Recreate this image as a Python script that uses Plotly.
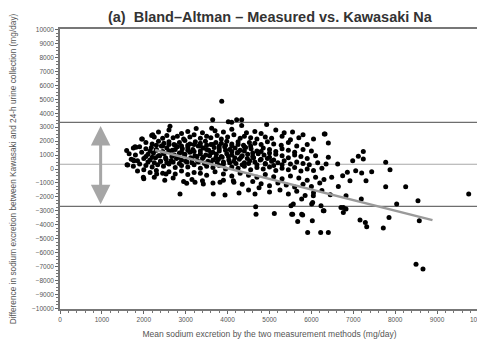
import plotly.graph_objects as go

# ---- data (mg/day) ----
mean_diff = 340
upper_loa = 3350
lower_loa = -2680
arrow_x = 970
reg_x = [2270, 8890]
reg_y = [1370, -3670]

outlier_x = [3860, 9754, 8497, 8663, 8544, 8575, 8250, 8035, 7852, 7716, 7773, 7876, 7773, 7320, 7287,
             7160, 7191, 7439, 7239, 7239, 7120, 6986, 7057, 7200, 7303, 6826, 6826, 6762, 6706, 6762,
             6643, 6746, 6858, 6921, 6627, 6404, 6404, 6308, 6484, 6404, 6221, 5911, 6022, 5673, 5792,
             5530, 5115, 6300, 6229, 6007, 6046, 5768, 5513, 4678, 5553, 4670, 5768, 2864, 3659, 3938,
             4272, 4654, 5568, 6030, 6284, 3644, 4017, 4216, 4336, 4097, 4336, 4932, 3620, 2625, 2188,
             1965, 6325, 1790, 1748, 1989, 2307, 2530, 3023, 3222, 3421, 3819, 4137, 1591, 1615, 1949,
             2212, 1766, 1814]
outlier_y = [4870, -1800, -6830, -7170, -2280, -3720, -1270, -2520, -3480, -4240, -1270, -50, 480, -4150, -3840,
             -3670, -2160, -190, 1250, 720, 910, 600, -120, -290, -840, -1920, -2880, -2760, -2760, -3120,
             -1250, -480, -240, -840, 360, 840, 1870, 2520, -600, -4550, -4550, -4550, -3720, -3770, -3310,
             -3240, -3190, -3000, -2640, -2520, -1920, -2160, -2640, -3240, -3240, -2710, -3240, -1800, -1800, -1870,
             -1730, -1800, -2520, -2400, -3000, 3530, 3400, 3530, 3530, 3360, 3120, 3190, 2930, 3070, 2400,
             2160, 2520, 1600, 650, -600, -360, -360, -1030, -960, -1080, -960, -840, 1320, 290, 2160,
             2450, 600, 1560]

core_x = [
    2350, 2600, 2900, 3050, 3250, 3400, 3700, 3900, 4100, 4450, 4650, 4800, 5150, 5350, 5550, 5800,
    2250, 2450, 2550, 2700, 2800, 2950, 3100, 3200, 3350, 3500, 3600, 3750, 3850, 4000, 4150, 4300, 4400,
    4550, 4700, 4900, 5050, 5300, 5500, 5700, 6050,
    2050, 2200, 2350, 2480, 2600, 2720, 2850, 2980, 3100, 3230, 3350, 3470, 3600, 3720, 3850, 3980, 4100,
    4250, 4380, 4520, 4650, 4800, 4950, 5100, 5280, 5450, 5650, 5900,
    2300, 2450, 2600, 2750, 2900, 3050, 3200, 3350, 3500, 3650, 3800, 3950, 4100, 4250, 4400, 4550,
    1750, 1900, 2050, 2180, 2300, 2420, 2550, 2680, 2800, 2920, 3050, 3170, 3300, 3420, 3550, 3680, 3800,
    3930, 4050, 4180, 4300, 4430, 4560, 4700, 4850, 5000, 5150, 5300, 5450, 5600, 5800, 6000,
    2150, 2300, 2450, 2600, 2750, 2900, 3050, 3200, 3350, 3500, 3650, 3800, 3950, 4100, 4250, 4400, 4600,
    4800, 5000,
    1650, 1800, 1950, 2100, 2230, 2350, 2480, 2600, 2730, 2850, 2980, 3100, 3220, 3350, 3480, 3600, 3730,
    3850, 3980, 4100, 4230, 4350, 4480, 4600, 4730, 4870, 5000, 5150, 5300, 5450, 5600, 5750, 5900, 6100,
    2050, 2200, 2380, 2520, 2670, 2820, 2970, 3120, 3270, 3420, 3570, 3720, 3870, 4020, 4170, 4320, 4470,
    4620, 4800, 4950, 5100,
    1700, 1850, 2000, 2150, 2280, 2400, 2530, 2650, 2780, 2900, 3030, 3150, 3280, 3400, 3530, 3650, 3780,
    3900, 4030, 4150, 4280, 4400, 4530, 4650, 4780, 4900, 5050, 5200, 5350, 5500, 5650, 5800, 5950, 6150, 6350,
    2100, 2250, 2400, 2550, 2700, 2850, 3000, 3150, 3300, 3450, 3600, 3750, 3900, 4050, 4200, 4350, 4500,
    4700, 4900, 5100, 5300,
    1600, 1750, 1900, 2050, 2200, 2330, 2470, 2600, 2750, 2900, 3050, 3200, 3350, 3500, 3650, 3800, 3950,
    4100, 4250, 4400, 4550, 4700, 4850, 5000, 5150, 5300, 5450, 5600, 5750, 5900, 6050, 6250,
    1850, 2000, 2150, 2300, 2450, 2600, 2750, 2900, 3050, 3200, 3350, 3500, 3700, 3900, 4100, 4300, 4500,
    4700, 4900, 5100, 5300, 5500, 5700, 5900, 6100, 6300,
    2000, 2250, 2500, 2700, 2950, 3150, 3400, 3650, 3900, 4150, 4350, 4600, 4800, 5000, 5200, 5400, 5600,
    5800, 6000, 6200,
    4500, 4750, 5000, 5250, 5450, 5650, 5850, 6050, 6250, 6450,
]
core_y = [
    2650, 2800, 2550, 2700, 2900, 2600, 2750, 2650, 2850, 2600, 2700, 2550, 2800, 2600, 2650, 2450,
    2300, 2200, 2400, 2250, 2350, 2150, 2300, 2450, 2200, 2350, 2250, 2400, 2150, 2300, 2450, 2200, 2350,
    2250, 2150, 2300, 2200, 2350, 2100, 2250, 2150,
    1900, 1800, 2000, 1850, 1950, 1750, 1900, 2050, 1800, 1950, 1850, 2000, 1750, 1900, 1850, 2000, 1800,
    1950, 1700, 1900, 1850, 1750, 1950, 1800, 1700, 1900, 1650, 1750,
    1700, 1650, 1750, 1700, 1650, 1700, 1750, 1650, 1700, 1750, 1650, 1700, 1650, 1750, 1600, 1650,
    1500, 1600, 1450, 1550, 1400, 1650, 1500, 1350, 1600, 1450, 1550, 1400, 1650, 1500, 1350, 1550, 1450,
    1600, 1400, 1500, 1350, 1550, 1450, 1300, 1500, 1400, 1250, 1450, 1350, 1200, 1400, 1300,
    1300, 1350, 1250, 1300, 1400, 1200, 1350, 1250, 1300, 1400, 1200, 1300, 1350, 1250, 1200, 1300, 1150,
    1250, 1150,
    1100, 1000, 1200, 1050, 1150, 950, 1100, 1250, 1000, 1150, 1050, 1200, 950, 1100, 1000, 1150, 1050,
    900, 1100, 1000, 1150, 950, 1050, 900, 1100, 1000, 850, 1050, 950, 800, 1000, 900, 750, 950,
    900, 850, 950, 800, 900, 850, 950, 800, 900, 850, 950, 800, 850, 900, 800, 850, 750,
    800, 700, 750, 650,
    700, 600, 750, 650, 800, 550, 700, 600, 750, 650, 500, 700, 600, 750, 550, 650, 700,
    500, 650, 550, 700, 450, 600, 500, 650, 400, 550, 450, 600, 350, 500, 400, 300, 450, 350,
    500, 450, 550, 450, 500, 400, 550, 450, 500, 400, 450, 500, 350, 450, 400, 300, 400,
    300, 350, 250, 300,
    300, 200, 350, 250, 150, 300, 200, 350, 100, 250, 150, 300, 50, 200, 100, 250, 0,
    150, 50, 200, -50, 100, 0, 150, -100, 50, -50, 100, -150, 0, -100, 50,
    -150, -50, -250, -100, -300, -200, -350, -150, -400, -250, -300, -450, -200, -350, -500, -300, -450,
    -600, -400, -550, -700, -500, -650, -800, -600, -750,
    -700, -600, -800, -650, -900, -750, -850, -1000, -800, -950, -1100, -900, -1050, -1200, -1000, -1150, -1300,
    -1100, -1250, -1000,
    -1500, -1350, -1650, -1500, -1800, -1600, -1900, -1700, -1550, -1850,
]

x_ticks = list(range(0, 10001, 1000))
y_ticks = list(range(-10000, 10001, 1000))

all_x = outlier_x + core_x
all_y = outlier_y + core_y

fig = go.Figure()
fig.add_trace(go.Scatter(x=all_x, y=all_y, mode="markers",
                         marker=dict(size=5, color="black"), showlegend=False, hoverinfo="skip"))
fig.add_trace(go.Scatter(x=reg_x, y=reg_y, mode="lines",
                         line=dict(color="#9a9a9a", width=2.5), showlegend=False))

for yv, col in [(upper_loa, "#6e6e6e"), (mean_diff, "#a8a8a8"), (lower_loa, "#6e6e6e")]:
    fig.add_shape(type="line", xref="paper", x0=0, x1=1, yref="y", y0=yv, y1=yv,
                  line=dict(color=col, width=1.2), layer="below")

fig.add_annotation(x=arrow_x, y=lower_loa + 150, ax=arrow_x, ay=upper_loa - 150,
                   xref="x", yref="y", axref="x", ayref="y", text="",
                   showarrow=True, arrowhead=2, arrowside="end+start",
                   arrowsize=1.3, arrowwidth=3, arrowcolor="#a6a6a6")

tick_font = dict(family="Liberation Sans, Arial", size=6.5, color="#555")
fig.update_layout(
    width=485, height=348,
    margin=dict(l=52, r=14, t=21, b=47, autoexpand=False),
    paper_bgcolor="white", plot_bgcolor="white",
    title=dict(text="<b>(a)  Bland\u2013Altman \u2013 Measured vs. Kawasaki Na</b>",
               x=0.54, xref="container", y=0.975, yref="container", xanchor="center", yanchor="middle",
               automargin=False,
               font=dict(family="Liberation Sans, Arial", size=14.5, color="#333")),
    xaxis=dict(range=[0, 10000], tickvals=x_ticks, ticktext=[str(v) for v in x_ticks],
               automargin=False,
               showgrid=False, zeroline=False, showline=True, mirror=True, linecolor="#777", linewidth=1.5,
               ticks="outside", ticklen=3, tickcolor="#666", tickfont=tick_font,
               minor=dict(dtick=200, ticks="outside", ticklen=2, tickcolor="#777"),
               title=dict(text="Mean sodium excretion by the two measurement methods (mg/day)",
                          font=dict(family="Liberation Sans, Arial", size=8.5, color="#555"), standoff=10)),
    yaxis=dict(range=[-10050, 10050], tickvals=y_ticks, ticktext=[str(v).replace("-", "\u2212") for v in y_ticks],
               automargin=False,
               showgrid=False, zeroline=False, showline=True, mirror=True, linecolor="#777", linewidth=1.5,
               ticks="outside", ticklen=3, tickcolor="#666", tickfont=tick_font,
               minor=dict(dtick=250, ticks="outside", ticklen=2, tickcolor="#777"),
               title=dict(text="Difference in sodium excretion between Kawasaki and 24-h urine collection (mg/day)",
                          font=dict(family="Liberation Sans, Arial", size=8.3, color="#555"), standoff=18)),
)

fig.write_html("out.html")
